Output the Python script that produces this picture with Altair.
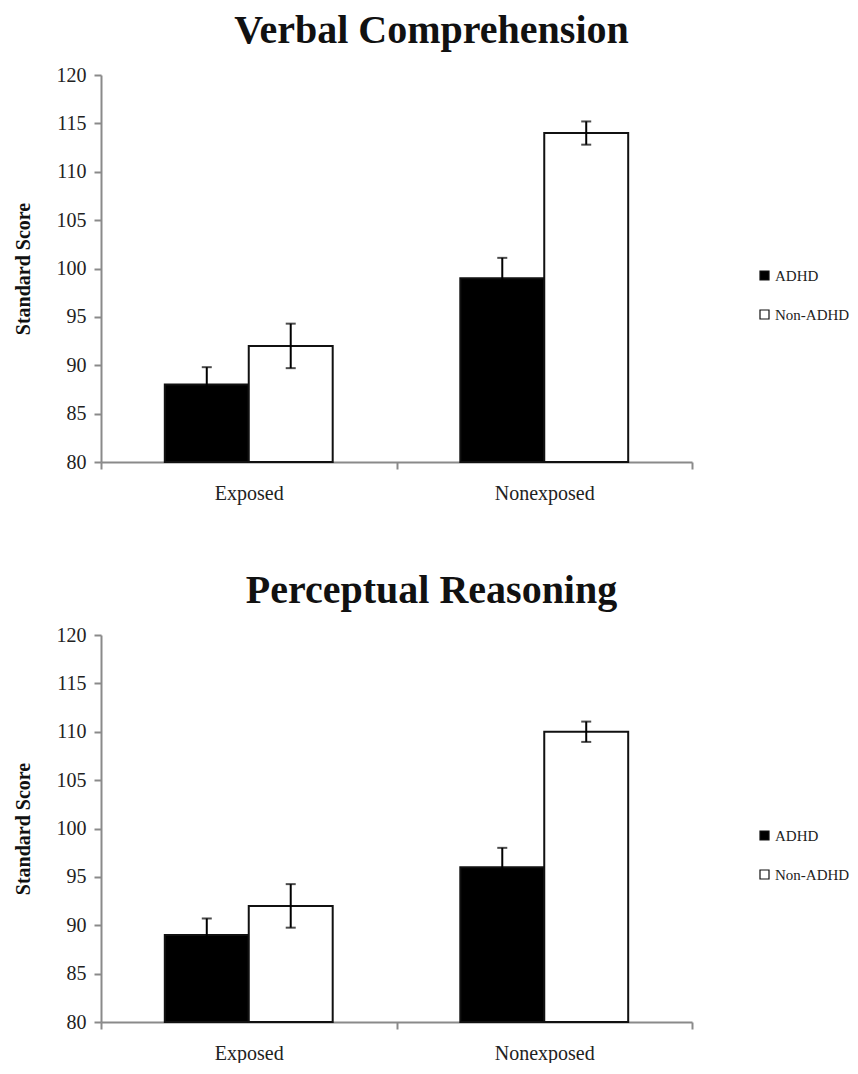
import altair as alt
import pandas as pd

groups = ["Exposed", "Nonexposed"]
series = ["ADHD", "Non-ADHD"]

# order: (Exposed, ADHD), (Exposed, Non-ADHD), (Nonexposed, ADHD), (Nonexposed, Non-ADHD)
row_group = ["Exposed", "Exposed", "Nonexposed", "Nonexposed"]
row_series = ["ADHD", "Non-ADHD", "ADHD", "Non-ADHD"]

verbal_mean = [88, 92, 99, 114]
verbal_se = [1.8, 2.3, 2.1, 1.2]

percept_mean = [89, 92, 96, 110]
percept_se = [1.7, 2.25, 2.0, 1.05]

y_ticks = [80, 85, 90, 95, 100, 105, 110, 115, 120]

FONT = "Liberation Serif"
W, H = 591, 387


def panel(title, means, ses):
    df = pd.DataFrame({
        "group": row_group,
        "series": row_series,
        "mean": means,
        "lo": [m - s for m, s in zip(means, ses)],
        "hi": [m + s for m, s in zip(means, ses)],
    })
    x = alt.X("group:N", title=None,
              scale=alt.Scale(domain=groups, paddingInner=0, paddingOuter=0),
              axis=alt.Axis(labelAngle=0, labelFont=FONT, labelFontSize=20, labelColor="#222",
                            tickBand="extent", tickSize=7, tickColor="#8a8a8a", tickWidth=2,
                            domainColor="#8a8a8a", domainWidth=2, labelPadding=14, grid=False))
    xo = alt.XOffset("series:N", scale=alt.Scale(domain=series, paddingInner=0, paddingOuter=0.76))
    yscale = alt.Scale(domain=[80, 120], nice=False, zero=False)
    base = alt.Chart(df).encode(x=x, xOffset=xo)
    bars = base.mark_bar(stroke="#111", strokeWidth=2).encode(
        y=alt.Y("mean:Q", scale=yscale, title="Standard Score",
                axis=alt.Axis(values=y_ticks, grid=False, labelFont=FONT, labelFontSize=20,
                              labelColor="#222", tickSize=7, tickColor="#8a8a8a", tickWidth=2,
                              domainColor="#8a8a8a", domainWidth=2, labelPadding=8,
                              titleFont=FONT, titleFontSize=20, titleFontWeight="bold",
                              titleColor="#111", titlePadding=23)),
        y2=alt.datum(80),
        fill=alt.Fill("series:N", scale=alt.Scale(domain=series, range=["#000000", "#ffffff"]),
                      legend=alt.Legend(title=None, orient="none", legendX=656, legendY=193,
                                        symbolType="square", symbolSize=81,
                                        symbolStrokeColor="#111", symbolStrokeWidth=1.2,
                                        labelFont=FONT, labelFontSize=15, labelColor="#222",
                                        labelOffset=3, rowPadding=23)),
    )
    rules = base.mark_rule(color="#000", strokeWidth=2).encode(
        y=alt.Y("lo:Q", scale=yscale), y2="hi:Q")
    cap_hi = base.mark_tick(color="#000", orient="horizontal", size=10, thickness=2).encode(
        y=alt.Y("hi:Q", scale=yscale))
    cap_lo = base.mark_tick(color="#000", orient="horizontal", size=10, thickness=2).encode(
        y=alt.Y("lo:Q", scale=yscale))
    return alt.layer(bars, rules, cap_hi, cap_lo).properties(
        width=W, height=H,
        title=alt.TitleParams(title, font=FONT, fontSize=40, fontWeight="bold", color="#111",
                              anchor="middle", frame="bounds", offset=14),
    )


chart = alt.vconcat(
    panel("Verbal Comprehension", verbal_mean, verbal_se),
    panel("Perceptual Reasoning", percept_mean, percept_se),
    spacing=68,
).resolve_scale(fill="independent").properties(
    padding={"left": 5, "top": 3, "right": 0, "bottom": 0}
).configure_view(stroke="transparent", strokeWidth=0).configure_axis(grid=False)

chart.save("out.html", embed_options={"renderer": "svg", "actions": False})
